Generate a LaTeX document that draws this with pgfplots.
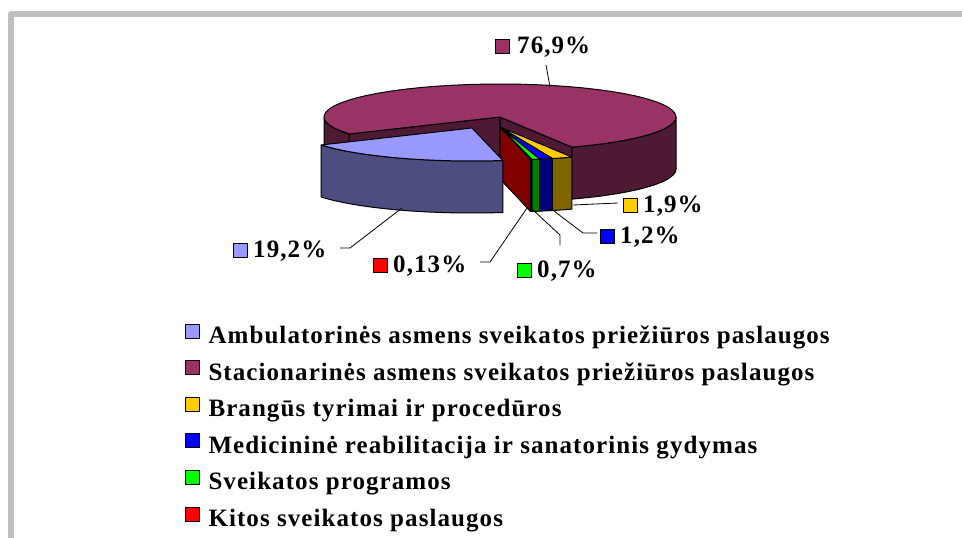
\documentclass[border=0pt]{standalone}
\usepackage{fontspec}
\setmainfont{Liberation Serif}[LetterSpace=4.3]
\usepackage{pgfplots}
\pgfplotsset{compat=1.18}
\definecolor{cMarT}{HTML}{993366}\definecolor{cMarW}{HTML}{4D1933}
\definecolor{cAmbT}{HTML}{9999FF}\definecolor{cAmbW}{HTML}{4D4D80}
\definecolor{cYelT}{HTML}{FFCC00}\definecolor{cYelW}{HTML}{806600}
\definecolor{cBluT}{HTML}{0000FF}\definecolor{cBluW}{HTML}{000080}
\definecolor{cGrnT}{HTML}{00FF00}\definecolor{cGrnW}{HTML}{008000}
\definecolor{cRedT}{HTML}{FF0000}\definecolor{cRedW}{HTML}{800000}
\definecolor{cFrame}{HTML}{C0C0C0}
% shares (percent)
\def\pA{19.2}\def\pB{76.9}\def\pC{1.9}\def\pD{1.2}\def\pE{0.7}\def\pF{0.13}
\pgfmathsetmacro\sZ{280.1}
\pgfmathsetmacro\tA{\sZ-3.6*\pA}
\pgfmathsetmacro\tB{\tA-3.6*\pB}
\pgfmathsetmacro\tC{\tB-3.6*\pC}
\pgfmathsetmacro\tD{\tC-3.6*\pD}
\pgfmathsetmacro\tE{\tD-3.6*\pE}
\pgfmathsetmacro\tF{\tE-3.6*\pF}
\def\cx{500}\def\cy{117}\def\ra{176}\def\rb{33}\def\hh{52}
\newcommand\LegFont{\fontsize{25}{30}\selectfont\bfseries}
\newcommand\sqbox[1]{{\setlength\fboxsep{0pt}\setlength\fboxrule{1pt}\fcolorbox{black}{#1}{\rule{13pt}{0pt}\rule{0pt}{13pt}}}}
% top face: color, t1, t2, ox, oy
\newcommand\sltop[5]{\addplot[forget plot, fill=#1, draw=black, line width=1pt, line join=round,
  samples at={0,1,1.02,...,1.98,2,3}]
  ({#4+\cx+\ra*(min(x,1)-max(x-2,0))*cos((#2)+((#3)-(#2))*min(max(x-1,0),1))},
   {#5+\cy-\rb*(min(x,1)-max(x-2,0))*sin((#2)+((#3)-(#2))*min(max(x-1,0),1))});}
% outer wall: color, u1, u2, ox, oy
\newcommand\slwall[5]{\addplot[forget plot, fill=#1, draw=black, line width=1pt, line join=round,
  samples at={0,0.02,...,0.98,1,2,2.02,...,2.98,3,4}]
  ({#4+\cx+\ra*cos((#2)+((#3)-(#2))*(min(x,1)-min(max(x-2,0),1)))},
   {#5+\cy-\rb*sin((#2)+((#3)-(#2))*(min(x,1)-min(max(x-2,0),1)))+\hh*(min(max(x-1,0),1)-min(max(x-3,0),1))});}
% radial wall: color, phi, ox, oy
\newcommand\slrad[4]{\addplot[forget plot, fill=#1, draw=black, line width=1pt, line join=round,
  samples at={0,1,2,3,4}]
  ({#3+\cx+\ra*(min(x,1)-min(max(x-2,0),1))*cos(#2)},
   {#4+\cy-\rb*(min(x,1)-min(max(x-2,0),1))*sin(#2)+\hh*(min(max(x-1,0),1)-min(max(x-3,0),1))});}
\begin{document}
\begin{tikzpicture}
\begin{axis}[
  width=962pt, height=538pt, scale only axis,
  xmin=0, xmax=962, ymin=0, ymax=538, y dir=reverse,
  hide axis, clip=true,
  legend style={at={(axis cs:184.5,323.5)}, anchor=north west, draw=none, fill=none,
    inner sep=0pt, outer sep=0pt, row sep=10.6pt, column sep=9pt, font=\LegFont,
    nodes={inner sep=0pt, text height=17pt, text depth=6pt}},
  legend cell align=left,
  legend image code/.code={\draw[#1, line width=1pt] (0pt,0pt) rectangle (14pt,14pt);},
]
% frame
\draw[cFrame, line width=6pt, line join=round] (axis cs:11,538) -- (axis cs:11,14) -- (axis cs:962,14);
% maroon (Stacionarines) slice
\slrad{cMarW}{\tA}{0}{0}
\slrad{cMarW}{\tB}{0}{0}
\slwall{cMarW}{\tB}{0}{0}{0}
\slwall{cMarW}{180}{\tA}{0}{0}
\sltop{cMarT}{\tB}{\tA}{0}{0}
% small slices
\slrad{cRedW}{\tF}{0}{10}
\slwall{cYelW}{\tC}{\tB}{0}{10}
\slwall{cBluW}{\tD}{\tC}{0}{10}
\slwall{cGrnW}{\tE}{\tD}{0}{10}
\slwall{cRedW}{\tF}{\tE}{0}{10}
\sltop{cYelT}{\tC}{\tB}{0}{10}
\sltop{cBluT}{\tD}{\tC}{0}{10}
\sltop{cGrnT}{\tE}{\tD}{0}{10}
\sltop{cRedT}{\tF}{\tE}{0}{10}
% exploded Ambulatorines slice
\slwall{cAmbW}{\tA}{\sZ}{-28}{11}
\sltop{cAmbT}{\tA}{\sZ}{-28}{11}
% leader lines
\addplot[forget plot, black, line width=0.8pt] coordinates {(546,65) (550,87)};
\addplot[forget plot, black, line width=0.8pt] coordinates {(573,205) (618,203)};
\addplot[forget plot, black, line width=0.8pt] coordinates {(550,208) (583,233) (597,233)};
\addplot[forget plot, black, line width=0.8pt] coordinates {(533,210) (560,235) (560,245)};
\addplot[forget plot, black, line width=0.8pt] coordinates {(527,208) (490,262) (480,262)};
\addplot[forget plot, black, line width=0.8pt] coordinates {(402,208) (350,248) (340,248)};
% data labels
\node[anchor=base west, inner sep=0pt, font=\LegFont] at (axis cs:495,53) {\sqbox{cMarT}\hspace{7pt}76,9\%};
\node[anchor=base west, inner sep=0pt, font=\LegFont] at (axis cs:623,212) {\sqbox{cYelT}\hspace{5pt}1,9\%};
\node[anchor=base west, inner sep=0pt, font=\LegFont] at (axis cs:600,243) {\sqbox{cBluT}\hspace{5pt}1,2\%};
\node[anchor=base west, inner sep=0pt, font=\LegFont] at (axis cs:233,257) {\sqbox{cAmbT}\hspace{5pt}19,2\%};
\node[anchor=base west, inner sep=0pt, font=\LegFont] at (axis cs:373,272) {\sqbox{cRedT}\hspace{5pt}0,13\%};
\node[anchor=base west, inner sep=0pt, font=\LegFont] at (axis cs:517,277) {\sqbox{cGrnT}\hspace{5pt}0,7\%};
% legend
\addlegendimage{fill=cAmbT, draw=black}
\addlegendentry{Ambulatorinės asmens sveikatos priežiūros paslaugos}
\addlegendimage{fill=cMarT, draw=black}
\addlegendentry{Stacionarinės asmens sveikatos priežiūros paslaugos}
\addlegendimage{fill=cYelT, draw=black}
\addlegendentry{Brangūs tyrimai ir procedūros}
\addlegendimage{fill=cBluT, draw=black}
\addlegendentry{Medicininė reabilitacija ir sanatorinis gydymas}
\addlegendimage{fill=cGrnT, draw=black}
\addlegendentry{Sveikatos programos}
\addlegendimage{fill=cRedT, draw=black}
\addlegendentry{Kitos sveikatos paslaugos}
\end{axis}
\pgfresetboundingbox
\useasboundingbox (current axis.south west) rectangle (current axis.north east);
\end{tikzpicture}
\end{document}
